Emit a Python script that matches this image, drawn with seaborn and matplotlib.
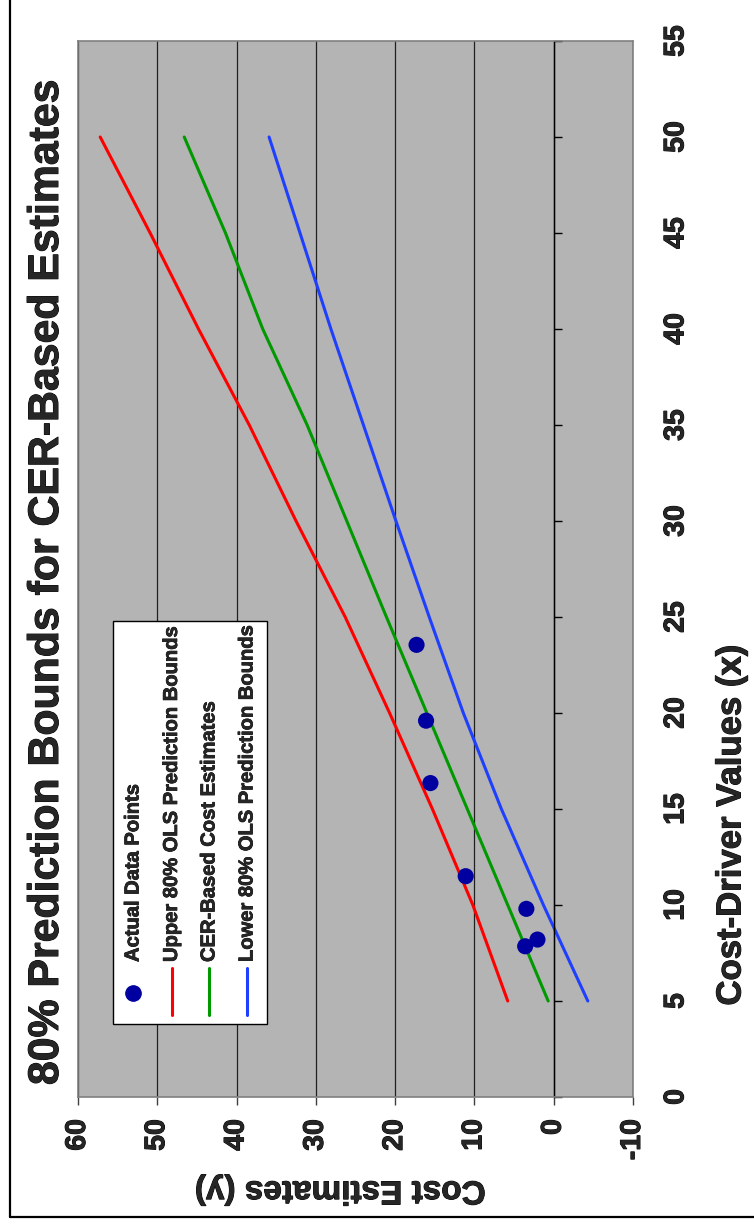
import matplotlib
matplotlib.use('Agg')
import matplotlib.pyplot as plt
import matplotlib.patheffects as pe
from matplotlib.lines import Line2D
from matplotlib.patches import Rectangle
import seaborn as sns

# data (x = cost driver, y = cost estimate)
driver_x = [5, 10, 15, 20, 25, 30, 35, 40, 45, 50]
upper_bound = [5.8, 10.2, 15.3, 20.7, 26.3, 32.5, 38.4, 44.8, 50.9, 57.2]
cer_estimate = [0.7, 5.8, 10.9, 16.0, 21.1, 26.1, 31.1, 36.7, 41.4, 46.6]
lower_bound = [-4.3, 1.3, 6.6, 11.4, 15.7, 19.9, 24.0, 28.1, 32.0, 35.9]

actual_x = [7.85, 8.2, 9.8, 11.5, 16.35, 19.6, 23.55]
actual_y = [3.6, 2.05, 3.45, 11.1, 15.55, 16.1, 17.3]

cost_ticks = [60, 50, 40, 30, 20, 10, 0, -10]
driver_ticks = [0, 5, 10, 15, 20, 25, 30, 35, 40, 45, 50, 55]

legend_labels = ['Actual Data Points', 'Upper 80% OLS Prediction Bounds',
                 'CER-Based Cost Estimates', 'Lower 80% OLS Prediction Bounds']

sns.set_style('white')
plt.rcParams['font.family'] = ['Liberation Sans', 'DejaVu Sans']
plt.rcParams['font.weight'] = 'bold'
plt.rcParams['axes.unicode_minus'] = False

# slight outline to get the heavy Excel-style bold
heavy = [pe.withStroke(linewidth=0.7, foreground='black')]

W, H = 754, 1226
fig = plt.figure(figsize=(W / 100, H / 100), dpi=100)
# chart is drawn turned 90 degrees: cost on the horizontal axis (reversed), driver vertical
ax = fig.add_axes([78 / W, 1 - 1097 / H, 555 / W, 1056 / H])
ax.set_facecolor('#b4b4b4')

line_colors = ['#ff0000', '#009900', '#1f3fff']
for vals, col in zip([upper_bound, cer_estimate, lower_bound], line_colors):
    sns.lineplot(x=vals, y=driver_x, sort=False, estimator=None, color=col,
                 linewidth=2.2, ax=ax)
sns.scatterplot(x=actual_y, y=actual_x, color='#0000a0', s=135, edgecolor='none',
                ax=ax, zorder=5)

ax.set_xlim(60, -10)
ax.set_ylim(0, 55)
ax.set_xticks(cost_ticks)
ax.set_yticks(driver_ticks)

ax.grid(axis='x', color='#202020', linewidth=0.9)
ax.grid(axis='y', visible=False)
ax.set_axisbelow(True)

for side in ['left', 'top', 'bottom']:
    ax.spines[side].set_color('#808080')
    ax.spines[side].set_linewidth(1.2)
ax.spines['right'].set_position(('data', 0))
ax.spines['right'].set_color('black')
ax.spines['right'].set_linewidth(1.0)
ax.axvline(-10, color='#808080', linewidth=1.2, clip_on=False)

ax.yaxis.tick_right()
ax.tick_params(axis='y', direction='out', length=6, width=1, color='black',
               pad=73, labelsize=20.5, labelrotation=90)
ax.tick_params(axis='x', direction='out', length=6, width=1, color='#404040',
               pad=10, labelsize=20.5, labelrotation=90, bottom=True)
plt.setp(ax.get_yticklabels(), va='center', ha='left', fontweight='bold',
         path_effects=heavy)
plt.setp(ax.get_xticklabels(), va='top', ha='center', fontweight='bold',
         path_effects=heavy)

ax.set_xlabel('Cost Estimates (y)', rotation=180, fontsize=24, fontweight='bold',
              path_effects=heavy)
ax.xaxis.set_label_coords((340 - 78) / 555, (1097 - 1190) / 1056)
ax.xaxis.label.set_va('center')
ax.yaxis.set_label_position('right')
ax.set_ylabel('Cost-Driver Values (x)', rotation=90, fontsize=25, fontweight='bold',
              path_effects=heavy)
ax.yaxis.set_label_coords((731 - 78) / 555, (1097 - 825) / 1056)
ax.yaxis.label.set_va('center')
ax.yaxis.label.set_ha('center')

fig.text(47 / W, 1 - 583 / H, '80% Prediction Bounds for CER-Based Estimates',
         rotation=90, fontsize=30.8, fontweight='bold', ha='center', va='center',
         path_effects=heavy)

# legend, turned with the chart
def ax_pt(px, py):
    return (px - 78) / 555, (1097 - py) / 1056

bx0, by0 = ax_pt(112.7, 1024)
bx1, by1 = ax_pt(266.7, 620.7)
ax.add_patch(Rectangle((bx0, by0), bx1 - bx0, by1 - by0, transform=ax.transAxes,
                       facecolor='white', edgecolor='black', linewidth=1, zorder=6))
entry_px = [133, 171.5, 209, 247]
ax.plot(*ax_pt(133, 993), marker='o', markersize=11, color='#0000a0',
        transform=ax.transAxes, zorder=7)
for px, col in zip(entry_px[1:], line_colors):
    (x0, y0), (x1, y1) = ax_pt(px, 1015), ax_pt(px, 968)
    ax.plot([x0, x1], [y0, y1], color=col, linewidth=2.2, transform=ax.transAxes,
            zorder=7)
for px, lab in zip(entry_px, legend_labels):
    tx, ty = ax_pt(px, 962)
    ax.text(tx, ty, lab, rotation=90, ha='center', va='bottom', fontsize=14.5,
            fontweight='bold', transform=ax.transAxes, zorder=7,
            path_effects=[pe.withStroke(linewidth=0.5, foreground='black')])

# outer frame of the sheet
fig.add_artist(Line2D([10 / W, 10 / W], [1 - 1217 / H, 1], color='black',
                      linewidth=1.6, transform=fig.transFigure))
fig.add_artist(Line2D([10 / W, 1], [1 - 1217 / H, 1 - 1217 / H], color='black',
                      linewidth=1.6, transform=fig.transFigure))

fig.savefig('out.png', dpi=100)
